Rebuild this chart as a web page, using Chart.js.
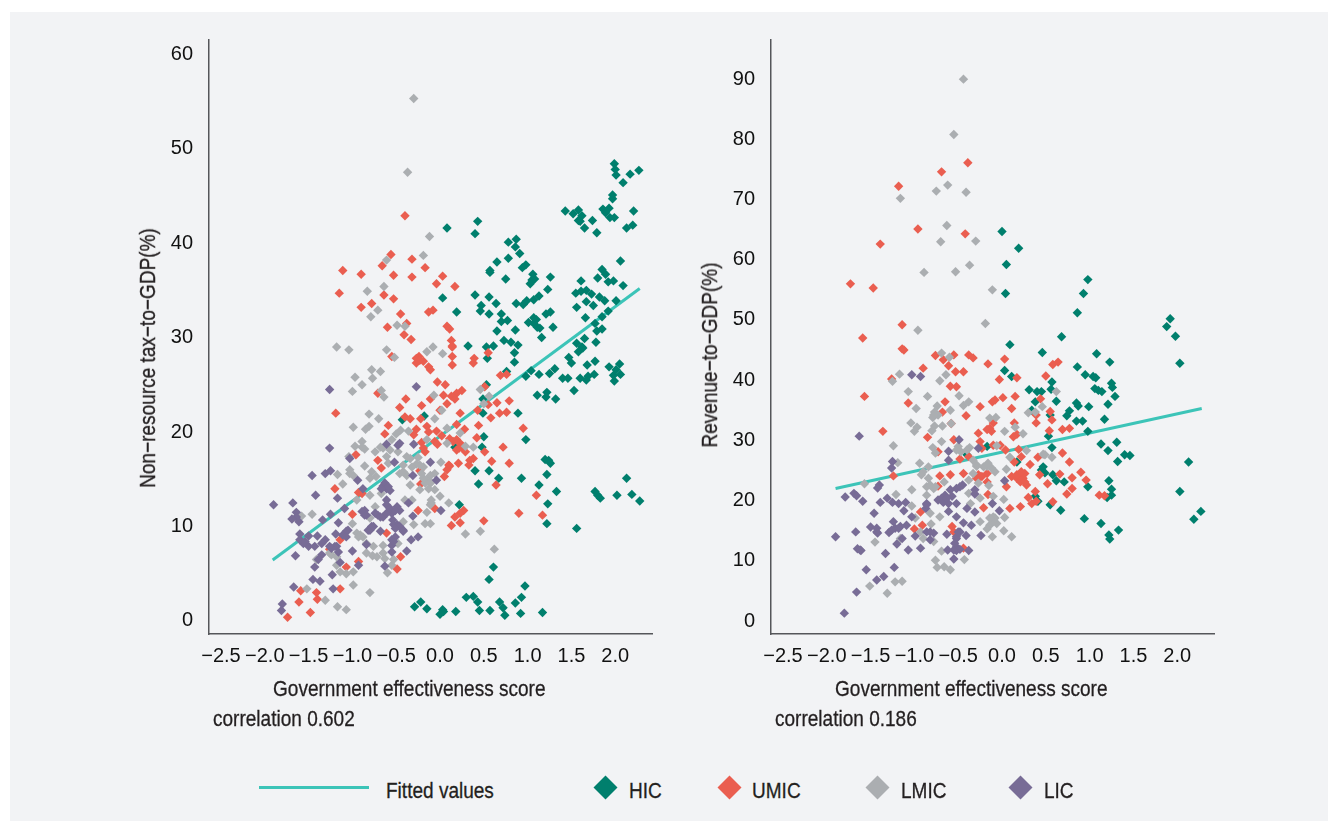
<!DOCTYPE html>
<html>
<head>
<meta charset="utf-8">
<script src="https://cdn.jsdelivr.net/npm/chart.js@4"></script>
<style>
html,body{margin:0;padding:0;background:#fff;width:1328px;height:821px;overflow:hidden}
#panel{position:absolute;left:10px;top:12px;width:1318px;height:809px;background:#f2f3f5}
canvas{position:absolute}
.t{position:absolute;font-family:"Liberation Sans",sans-serif;font-size:22px;color:#231f20;white-space:nowrap;line-height:22px;transform-origin:0 50%;transform:scaleX(0.865);-webkit-text-stroke:0.3px #231f20}
.t.rot{transform-origin:50% 50%;transform:translate(-50%,-50%) rotate(-90deg) scaleX(0.865)}
.d{position:absolute;width:17px;height:17px;transform:rotate(45deg)}
#ln{position:absolute;left:259px;top:786px;width:110px;height:3px;background:#3cc4b8}
</style>
</head>
<body>
<div id="panel"></div>
<canvas id="c1" width="530" height="680" style="left:130px;top:30px;width:530px;height:680px"></canvas>
<canvas id="c2" width="530" height="680" style="left:692px;top:30px;width:530px;height:680px"></canvas>
<div class="t rot" style="left:148px;top:358px">Non−resource tax−to−GDP(%)</div>
<div class="t rot" style="left:710px;top:355px">Revenue−to−GDP(%)</div>
<div class="t" style="left:273px;top:678px">Government effectiveness score</div>
<div class="t" style="left:835px;top:678px">Government effectiveness score</div>
<div class="t" style="left:213px;top:708px">correlation 0.602</div>
<div class="t" style="left:775px;top:708px">correlation 0.186</div>
<div id="ln"></div>
<div class="t" style="left:386px;top:780px">Fitted values</div>
<div class="d" style="left:597px;top:779px;background:#007f6d"></div>
<div class="t" style="left:629px;top:780px">HIC</div>
<div class="d" style="left:721px;top:779px;background:#ea5e50"></div>
<div class="t" style="left:752px;top:780px">UMIC</div>
<div class="d" style="left:869px;top:779px;background:#abaeb1"></div>
<div class="t" style="left:901px;top:780px">LMIC</div>
<div class="d" style="left:1012px;top:779px;background:#786c96"></div>
<div class="t" style="left:1044px;top:780px">LIC</div>
<script>
const seriesNames = ["HIC","UMIC","LMIC","LIC"];
const seriesColors = ["#007f6d","#ea5e50","#abaeb1","#786c96"];
const fittedColor = "#3cc4b8";
const xTicks = [-2.5,-2,-1.5,-1,-0.5,0,0.5,1,1.5,2];
const taxTicks = [0,10,20,30,40,50,60];
const revTicks = [0,10,20,30,40,50,60,70,80,90];
const taxFit = [[-1.91,6.46],[2.28,35.2]];
const revFit = [[-1.90,22.0],[2.28,35.3]];

const taxHIC = [[1.99,48.4],[2.0,47.8],[2.01,47.2],[2.27,47.7],[2.17,47.3],[2.09,46.4],[1.97,45.1],[1.97,44.7],[1.43,43.4],[1.52,43.1],[1.58,43.5],[1.62,42.9],[1.58,42.4],[1.6,42.3],[1.74,42.4],[1.65,41.6],[1.79,41.1],[1.86,43.6],[1.93,43.7],[1.89,43.2],[1.94,42.7],[1.99,42.7],[2.21,43.4],[2.2,41.9],[2.13,41.6],[0.08,41.6],[0.43,42.3],[0.4,41.0],[0.78,40.1],[0.87,40.4],[0.86,39.6],[0.91,38.9],[0.65,38.0],[0.78,38.4],[0.98,37.7],[0.94,37.4],[0.57,37.1],[0.57,36.9],[0.75,36.2],[1.06,36.7],[1.08,36.2],[1.05,36.1],[1.03,35.7],[1.26,36.4],[1.23,35.1],[1.13,34.4],[0.03,34.2],[0.4,34.5],[0.56,34.3],[0.19,32.7],[0.64,33.6],[0.47,33.4],[0.46,32.8],[0.56,32.5],[0.7,32.5],[0.77,31.8],[0.7,31.7],[0.65,30.7],[0.86,30.8],[0.87,33.6],[0.95,33.5],[0.99,33.9],[1.07,34.0],[1.07,32.1],[1.1,31.9],[1.01,31.6],[1.07,31.5],[1.11,31.1],[1.14,31.0],[1.21,32.5],[1.26,32.7],[1.29,31.1],[1.16,30.0],[2.06,38.1],[1.85,37.2],[1.8,36.3],[1.89,36.7],[1.92,35.9],[1.98,36.0],[1.61,36.0],[1.55,34.7],[1.61,34.9],[1.67,35.0],[1.73,34.6],[2.09,35.5],[1.82,34.3],[1.88,33.9],[1.67,33.8],[1.75,33.4],[2.01,33.9],[1.56,33.2],[1.66,32.1],[1.92,32.8],[1.85,32.2],[1.77,31.5],[1.85,30.9],[1.79,30.7],[1.65,29.9],[1.78,29.5],[1.56,29.4],[1.62,29.0],[0.32,29.1],[0.53,29.0],[0.61,29.1],[0.73,29.7],[0.81,29.5],[0.89,29.2],[0.85,28.4],[0.54,27.8],[0.85,27.4],[0.76,26.4],[0.98,25.9],[1.04,26.5],[1.13,26.1],[1.25,26.2],[1.31,26.7],[1.4,25.7],[1.46,25.7],[1.47,27.9],[1.5,27.3],[1.58,28.5],[1.63,28.9],[1.68,27.1],[1.77,27.5],[1.6,25.7],[1.67,25.5],[1.69,25.9],[1.76,26.1],[1.93,26.9],[2.05,27.2],[2.01,26.6],[1.98,26.0],[2.06,26.1],[1.99,25.4],[1.53,24.4],[1.11,23.9],[1.22,24.2],[1.21,23.7],[1.32,23.5],[0.53,25.0],[0.49,23.5],[0.49,22.0],[-0.18,21.7],[-0.43,21.3],[0.89,22.0],[0.5,19.5],[0.48,18.4],[0.17,18.4],[0.98,19.2],[1.2,17.1],[1.24,17.0],[1.26,16.7],[1.22,15.5],[0.4,15.9],[0.56,15.9],[0.67,15.1],[0.44,14.5],[0.93,15.1],[1.13,14.4],[1.33,13.7],[1.23,12.4],[1.77,13.7],[1.8,13.3],[1.83,13.0],[2.02,13.3],[2.19,13.4],[2.13,15.1],[2.28,12.7],[1.56,9.8],[1.22,10.3],[0.22,12.3],[0.61,5.7],[0.56,4.4],[0.97,3.7],[0.3,2.5],[0.38,2.6],[0.43,2.0],[-0.22,2.0],[-0.29,1.5],[-0.15,1.3],[0.03,1.2],[0.04,1.0],[0.0,0.7],[0.18,1.0],[0.45,1.1],[0.57,1.1],[0.68,2.0],[0.72,1.4],[0.74,0.6],[0.86,1.9],[0.93,2.5],[0.92,0.8],[1.17,0.9]];

const taxUMIC = [[-0.4,42.9],[-0.56,38.8],[-0.32,38.3],[-0.66,37.6],[-1.11,37.1],[-0.9,36.7],[-0.53,36.6],[-0.17,37.4],[-0.32,36.4],[0.03,36.5],[-0.04,35.7],[0.17,35.4],[-1.15,34.7],[-0.64,34.5],[-0.53,34.1],[-0.78,33.6],[-0.9,33.2],[-0.45,32.5],[-0.13,32.7],[-0.08,32.9],[-0.38,31.5],[-0.6,31.1],[0.08,31.2],[0.11,30.9],[-0.41,30.3],[-0.33,29.8],[0.13,29.7],[0.14,29.1],[0.14,29.0],[-0.55,28.0],[0.14,28.0],[0.39,27.8],[0.38,27.3],[0.14,27.1],[-0.24,28.0],[-0.27,27.3],[-0.19,27.5],[-0.13,26.9],[-0.11,26.6],[0.55,28.4],[0.69,26.0],[0.76,26.1],[-0.03,25.3],[0.06,25.0],[0.51,24.8],[-0.71,24.1],[0.25,24.4],[0.19,24.1],[0.04,23.9],[0.13,23.8],[0.17,23.5],[-0.11,23.5],[-0.39,23.5],[0.08,23.0],[-0.21,22.8],[-0.46,22.6],[0.79,23.3],[0.65,23.1],[0.55,22.9],[0.43,22.3],[-1.19,22.0],[0.0,22.3],[0.23,22.0],[0.68,22.0],[0.76,22.1],[0.58,21.5],[-0.4,21.6],[-0.34,21.4],[-0.22,21.4],[0.19,20.8],[-0.59,20.7],[-0.15,20.6],[0.44,20.7],[0.95,20.4],[-0.27,20.3],[0.28,20.3],[-0.04,20.1],[-0.13,20.0],[-0.3,19.7],[0.02,19.6],[0.42,19.4],[-0.63,19.8],[0.11,19.3],[-0.06,19.0],[-0.03,18.7],[0.15,19.0],[-0.21,18.9],[0.23,18.8],[-0.19,18.3],[0.22,18.3],[-0.17,17.9],[0.29,17.9],[0.72,18.4],[0.51,17.9],[-0.96,17.6],[-0.71,17.0],[0.38,17.2],[0.34,17.0],[0.59,16.9],[0.79,16.7],[0.21,16.7],[0.33,16.5],[0.11,16.4],[0.08,16.0],[-0.23,15.9],[-0.67,16.2],[0.05,15.3],[-0.22,14.5],[0.64,14.4],[-1.2,14.0],[-0.93,13.6],[-0.89,13.5],[1.1,13.3],[-1.0,11.3],[0.27,11.7],[0.23,11.4],[0.17,11.0],[0.23,10.4],[0.13,10.1],[0.9,11.4],[1.17,11.2],[0.5,10.6],[-0.25,11.7],[-0.06,11.9],[-0.61,9.3],[-1.14,8.6],[-0.45,6.8],[-1.26,7.6],[-0.93,6.3],[-1.07,5.7],[-0.49,5.5],[-1.14,3.4],[-1.41,3.0],[-1.59,3.2],[-1.4,2.3],[-1.61,2.0],[-1.48,0.9],[-1.74,0.4],[0.19,19.2],[0.25,18.4],[0.19,18.1],[0.10,16.5],[-0.27,27.8],[-0.23,27.6]];

const taxLMIC = [[-0.3,55.3],[-0.37,47.5],[-0.12,40.7],[-0.19,38.7],[-0.61,38.2],[-0.83,34.9],[-0.64,35.4],[-0.71,32.9],[-0.79,32.2],[-0.49,31.3],[-0.4,31.2],[-0.08,29.0],[-1.18,29.0],[-1.04,28.7],[-0.61,28.7],[-0.15,28.5],[0.03,28.3],[-0.52,27.9],[-0.78,26.6],[-0.68,26.4],[-0.97,25.8],[-0.77,25.7],[-0.89,25.0],[-1.0,24.3],[-0.67,24.4],[-0.64,23.7],[-0.07,23.9],[0.46,24.5],[0.56,23.8],[0.5,23.0],[0.02,22.3],[-0.81,21.9],[-0.7,21.4],[-0.06,21.4],[-0.99,20.5],[-0.85,20.3],[-0.81,20.6],[-0.45,20.2],[-0.36,20.1],[-0.5,19.8],[-0.55,19.2],[0.08,20.4],[0.23,19.9],[-0.15,19.2],[-0.89,19.0],[-0.97,18.5],[-0.86,18.2],[0.08,18.8],[0.29,18.5],[0.38,18.4],[-0.65,18.3],[-0.74,17.9],[-0.61,17.4],[-0.48,17.9],[-0.38,17.4],[-0.25,17.3],[-1.04,17.4],[-0.86,16.4],[-0.59,16.7],[-0.42,16.5],[-0.27,16.6],[-0.32,16.3],[0.01,16.8],[-1.03,16.0],[-0.99,15.4],[-0.78,15.8],[-0.73,15.3],[-0.8,15.1],[-0.46,15.6],[-0.38,15.4],[-0.21,15.6],[-0.06,15.6],[-0.15,14.9],[-1.17,15.5],[-1.11,14.5],[-0.34,14.4],[-0.11,14.6],[-0.23,13.9],[-0.13,14.0],[-0.06,13.9],[-0.95,12.8],[-0.8,13.3],[-0.67,13.5],[0.0,13.2],[0.1,12.5],[-0.1,12.5],[-0.4,12.8],[-0.32,12.8],[-0.74,12.1],[-1.58,11.1],[-1.46,11.3],[-0.15,11.5],[-0.8,10.9],[-0.42,10.5],[-1.0,10.3],[-0.3,10.2],[-0.17,10.3],[-0.11,10.3],[0.29,9.2],[0.46,9.5],[-0.95,9.3],[-0.88,8.9],[-0.48,8.2],[-0.76,7.9],[-0.65,8.0],[0.62,7.6],[-1.24,7.0],[-0.84,7.2],[-0.77,6.9],[-0.72,6.8],[-0.63,6.6],[-0.55,5.9],[-1.18,5.9],[-1.14,5.2],[-1.07,5.0],[-0.99,5.2],[-0.6,5.1],[-1.41,6.5],[-1.52,3.4],[-0.99,3.8],[-0.8,3.0],[-1.31,2.2],[-1.17,1.5],[-1.07,1.2],[-0.19,16.3],[-0.23,16.5],[-0.11,15.4],[-0.17,14.6],[-0.10,14.7],[-0.19,15.1],[-0.42,15.8],[-0.34,17.2],[-0.57,18.1],[-0.68,18.4],[-0.91,9.1],[-0.84,8.2],[-1.26,7.2],[-1.18,6.8],[-0.65,7.2],[-0.53,6.5],[-0.89,18.4],[-1.03,15.6],[-0.93,8.9],[-0.10,12.8],[-0.11,12.3]];

const taxLIC = [[-0.27,24.8],[-1.26,24.5],[-1.26,18.3],[-1.03,17.2],[-0.3,18.7],[-0.61,18.7],[-0.48,18.6],[-0.46,18.8],[-0.52,16.8],[-0.11,16.8],[-0.31,15.4],[-1.46,15.4],[-1.31,15.6],[-1.25,15.9],[-0.94,14.9],[-0.04,14.9],[-0.65,14.3],[-0.88,14.0],[-0.61,14.0],[-0.57,13.8],[-1.42,13.3],[-1.17,13.0],[-0.61,12.8],[-0.61,12.3],[-1.68,12.5],[-1.9,12.3],[-0.36,12.5],[-0.49,12.1],[-1.09,11.9],[-0.86,11.7],[-0.86,11.2],[0.01,11.7],[-1.64,11.5],[-1.25,11.3],[-1.64,11.0],[-1.69,10.8],[-1.61,10.5],[-1.34,10.7],[-0.71,11.2],[-0.65,11.0],[-0.55,11.4],[-0.46,11.7],[-0.54,10.7],[-0.31,11.1],[-1.16,10.4],[-0.78,10.0],[-0.82,9.6],[-0.49,10.2],[-0.42,9.6],[-0.68,9.5],[-1.07,9.5],[-1.11,9.1],[-1.19,9.2],[-1.6,9.2],[-1.5,9.0],[-1.4,9.0],[-0.25,8.9],[-0.33,8.6],[-1.31,8.6],[-1.56,8.2],[-1.5,7.9],[-1.43,7.9],[-1.35,8.2],[-0.55,8.6],[-0.55,8.0],[-1.24,7.7],[-1.18,7.9],[-1.16,7.3],[-1.0,7.4],[-0.84,8.1],[-0.38,7.4],[-0.55,7.3],[-1.65,6.9],[-1.35,7.0],[-1.39,6.5],[-1.14,6.2],[-1.43,5.7],[-0.93,5.9],[-0.63,5.8],[-1.23,4.9],[-1.45,4.4],[-1.37,4.2],[-1.67,3.6],[-1.22,3.4],[-1.8,1.8],[-1.81,1.1],[-0.89,11.6],[-0.84,11.2],[-0.74,11.4],[-0.68,11.0],[-0.61,11.4],[-0.57,11.9],[-0.51,11.7],[-0.53,10.2],[-0.46,10.0],[-0.42,9.5],[-0.51,9.8],[-0.80,9.6],[-0.76,10.0],[-1.07,8.9],[-1.05,9.6],[-1.20,7.9],[-1.26,7.9],[-1.60,8.6],[-1.54,8.4],[-0.63,14.6],[-0.59,14.2],[-0.67,14.0],[-0.51,8.9],[-0.53,8.4]];

const revHIC = [[0.0,64.7],[0.19,61.9],[0.05,59.2],[0.04,54.4],[0.98,56.7],[0.93,54.4],[0.86,51.2],[0.68,47.2],[0.09,45.9],[1.92,50.2],[1.88,48.9],[1.98,47.3],[0.46,44.6],[1.08,44.4],[1.23,43.0],[2.03,42.8],[0.86,42.2],[0.03,41.6],[0.11,40.6],[0.95,40.9],[1.04,40.6],[1.07,40.4],[1.25,39.5],[1.26,38.8],[0.57,39.7],[0.56,38.5],[0.31,38.4],[0.4,38.1],[0.45,38.1],[1.06,38.6],[1.1,38.3],[1.14,38.1],[1.29,37.3],[0.62,36.5],[0.38,36.4],[1.21,36.0],[0.85,36.2],[0.87,35.7],[0.99,35.6],[0.34,35.0],[0.77,34.9],[0.74,34.1],[0.55,34.2],[0.85,33.2],[0.92,33.2],[1.17,33.5],[0.98,31.5],[0.53,30.7],[0.57,28.8],[-0.17,29.0],[-0.4,27.6],[1.13,29.4],[1.31,29.7],[1.21,28.3],[1.4,27.6],[1.46,27.5],[1.32,26.5],[2.13,26.4],[0.17,26.4],[0.47,25.6],[0.45,25.1],[0.49,24.6],[0.58,24.3],[0.62,23.3],[0.71,23.1],[1.22,23.3],[0.98,22.3],[1.25,21.9],[1.25,20.9],[1.2,20.5],[2.03,21.5],[0.41,19.9],[0.38,20.7],[0.55,19.3],[0.67,18.4],[2.27,18.2],[2.19,16.9],[0.94,17.0],[1.13,16.2],[1.33,15.1],[1.22,14.3],[1.23,13.6]];

const revUMIC = [[-0.39,76.1],[-0.69,74.6],[-1.18,72.2],[-0.96,65.1],[-0.42,64.3],[-1.39,62.6],[-1.73,56.0],[-1.47,55.3],[-1.14,49.2],[-1.59,47.0],[-1.14,45.2],[-1.12,45.0],[-0.76,44.1],[-0.55,44.2],[-0.38,44.2],[-0.33,43.7],[-0.67,43.4],[-0.61,42.4],[-0.16,42.7],[0.03,43.5],[-0.9,42.0],[0.64,43.0],[0.58,42.6],[-0.53,41.4],[-0.44,41.4],[0.5,40.7],[0.17,40.4],[-0.03,40.1],[-1.26,40.2],[-0.59,39.0],[-0.52,38.9],[-1.57,37.3],[-0.65,36.4],[-1.07,36.2],[-0.11,36.4],[-0.08,36.7],[0.01,37.1],[0.15,37.3],[0.44,36.9],[0.11,35.3],[-0.25,35.6],[-0.68,34.7],[-0.41,34.1],[0.55,34.8],[0.57,33.4],[0.39,34.2],[0.39,32.9],[0.14,32.9],[-0.1,32.9],[-0.58,32.8],[-0.14,32.0],[0.54,31.6],[0.69,31.8],[0.77,32.0],[-0.17,31.8],[-0.12,31.5],[-0.27,31.2],[-1.36,31.5],[0.13,30.6],[0.17,31.0],[-0.85,30.5],[-0.55,30.1],[-0.25,29.8],[-0.23,28.7],[-0.1,29.2],[-0.02,29.2],[0.04,28.4],[0.19,28.5],[-0.73,28.1],[0.69,27.9],[0.22,27.3],[-0.38,27.3],[-0.48,26.9],[0.41,27.2],[0.14,26.4],[0.77,26.4],[0.32,26.0],[-0.44,24.5],[-1.24,24.1],[-0.71,24.1],[-0.59,24.3],[-0.27,24.3],[-0.23,24.0],[0.11,24.0],[0.17,23.7],[0.23,24.3],[0.26,24.5],[0.21,23.1],[0.28,22.6],[0.43,24.3],[0.66,24.4],[0.9,24.7],[0.8,23.8],[0.96,23.4],[-0.17,23.1],[0.52,22.8],[-0.73,22.4],[0.05,22.3],[0.38,21.5],[0.8,22.0],[0.74,21.1],[-0.16,21.0],[0.3,20.5],[1.11,20.9],[1.17,20.8],[0.58,19.8],[0.34,19.5],[0.39,19.9],[0.21,19.0],[0.09,18.7],[-0.21,18.8],[-0.93,18.1],[-0.91,15.9],[-1.0,15.3],[-0.57,15.7],[-0.55,14.8],[-0.44,12.1],[0.21,24.0],[0.24,23.7],[0.17,24.3],[0.26,23.1],[0.22,24.8],[-0.25,24.0],[-0.17,24.5],[-0.29,23.7]];

const revLMIC = [[-0.44,90.0],[-0.55,80.8],[-0.62,72.4],[-0.75,71.4],[-0.41,71.2],[-1.16,70.2],[-0.63,65.7],[-0.7,63.0],[-0.3,63.1],[-0.37,59.1],[-0.53,58.0],[-0.89,57.9],[-0.11,55.0],[-0.19,49.4],[-0.96,48.3],[-0.69,44.5],[-0.6,43.8],[-1.17,41.0],[-0.64,40.9],[-0.71,39.9],[-1.25,39.8],[-1.07,38.1],[-0.49,37.4],[-0.85,37.3],[0.62,38.1],[-0.74,35.7],[-0.98,35.3],[-0.38,36.4],[-0.44,35.8],[0.46,35.6],[-0.77,34.7],[-0.59,35.0],[-0.79,33.8],[-0.73,34.2],[-0.14,33.7],[-0.07,33.8],[0.3,34.6],[0.38,34.7],[-1.04,32.9],[-0.58,32.8],[-0.68,32.4],[-0.77,32.4],[-0.97,32.2],[-1.0,31.5],[-0.8,31.6],[0.03,31.5],[0.15,32.2],[0.24,31.1],[-0.69,29.8],[-1.24,29.1],[-0.5,29.0],[-0.06,29.1],[-0.79,28.8],[-0.37,28.8],[-0.76,27.9],[-0.47,28.1],[0.28,28.3],[0.47,27.7],[0.57,27.2],[0.09,27.2],[-1.19,26.3],[-0.94,26.2],[-0.84,25.6],[-0.29,25.7],[-0.17,25.7],[-0.12,25.4],[-0.9,24.8],[-0.92,24.3],[-0.33,24.5],[-0.08,24.8],[0.05,25.2],[-0.84,23.7],[-0.66,23.1],[-0.38,23.4],[-0.27,22.9],[-1.57,22.8],[-0.86,22.3],[-0.78,22.0],[-0.15,22.5],[-1.03,21.8],[-0.86,20.9],[-0.38,21.2],[-0.1,20.7],[-1.21,21.0],[0.02,20.2],[-1.03,19.1],[-0.36,19.5],[-0.25,20.4],[-0.82,17.9],[-0.71,17.3],[0.03,17.2],[-0.25,16.5],[-0.1,17.3],[-0.06,16.2],[-0.14,15.9],[-0.99,17.1],[-0.81,16.1],[-0.17,15.3],[0.02,15.0],[-0.11,14.0],[0.11,14.0],[-0.93,14.8],[-0.9,13.7],[-1.16,13.7],[-0.78,13.2],[-1.45,13.1],[-0.69,11.6],[-0.43,10.2],[-0.76,10.1],[-0.74,8.9],[-0.66,9.0],[-0.59,8.5],[-1.22,6.5],[-1.14,6.6],[-1.51,5.8],[-1.31,4.6],[-0.10,16.5],[-0.08,17.1],[-0.14,17.1],[-0.29,25.9],[-0.21,25.6],[-0.16,26.2],[-0.78,34.2],[-0.76,22.3],[-0.82,22.6],[-0.33,26.7],[-0.40,28.4],[-0.52,28.4],[0.49,27.6]];

const revLIC = [[-0.49,30.1],[-1.63,30.7],[-1.03,40.9],[-0.93,40.6],[-0.61,28.2],[-0.27,28.7],[-0.61,26.7],[-1.25,26.5],[-1.26,25.4],[-1.4,22.6],[-1.42,22.1],[-0.45,22.6],[-0.52,22.0],[0.03,23.3],[-0.31,21.8],[-0.31,21.1],[-0.59,21.8],[-0.65,20.9],[-0.57,20.7],[-0.73,20.1],[-0.67,19.7],[-0.52,19.5],[-1.79,20.6],[-1.69,21.2],[-1.66,20.8],[-1.59,19.9],[-1.39,19.7],[-1.31,20.4],[-1.25,19.7],[-1.18,19.5],[-1.1,19.7],[-1.12,18.3],[-0.86,19.5],[-0.87,18.7],[-0.11,19.5],[-1.46,17.9],[-0.61,18.2],[-0.4,18.7],[-0.31,18.1],[-0.03,18.3],[-1.03,17.3],[-0.52,17.3],[-1.24,16.5],[-0.44,16.3],[-0.35,15.9],[-1.5,15.6],[-1.43,15.4],[-1.09,15.9],[-1.16,15.7],[-1.22,15.4],[-1.67,14.8],[-1.29,14.7],[-1.42,14.6],[-1.9,14.0],[-0.86,14.8],[-0.78,14.6],[-0.99,14.1],[-0.82,13.5],[-0.63,14.4],[-0.48,14.8],[-0.52,13.7],[-0.41,14.2],[-0.24,14.2],[-1.14,13.7],[-1.2,12.8],[-1.07,11.8],[-0.93,12.1],[-1.65,12.0],[-1.61,11.7],[-0.62,11.8],[-0.52,12.3],[-0.52,11.7],[-0.38,11.7],[-1.33,11.2],[-0.55,10.3],[-1.55,8.5],[-1.23,8.9],[-1.35,7.4],[-1.43,6.8],[-1.66,4.8],[-1.8,1.3],[-0.52,14.0],[-0.54,12.9],[-0.48,11.9],[-0.55,11.8],[-0.50,14.8],[-0.61,19.5],[-0.69,20.4],[-0.63,20.4],[-0.48,22.3],[-0.86,19.3],[-1.43,14.8],[-1.26,15.1],[-1.18,15.4],[-0.82,14.8],[-1.62,11.8]];

const FONT = {family:'"Liberation Sans",sans-serif',size:20};
function toPts(a){return a.map(p=>({x:p[0],y:p[1]}));}
function makeChart(id,groups,fit,yTicks,yMin,yMax){
  const datasets = groups.map((g,i)=>({
    type:'scatter',label:seriesNames[i],data:toPts(g),pointStyle:'rectRot',pointRadius:4.7,pointBorderWidth:0,
    backgroundColor:seriesColors[i],order:4-i
  }));
  datasets.push({type:'line',label:'Fitted values',data:toPts(fit),borderColor:fittedColor,borderWidth:3,pointRadius:0,fill:false,order:5});
  new Chart(document.getElementById(id),{
    type:'scatter',
    data:{datasets},
    options:{
      responsive:false,animation:false,
      layout:{padding:{top:10,right:8,bottom:0,left:0}},
      plugins:{legend:{display:false},tooltip:{enabled:false}},
      scales:{
        x:{type:'linear',min:-2.637,max:2.42,
          afterBuildTicks(ax){ax.ticks=xTicks.map(v=>({value:v}));},
          afterFit(ax){ax.height=76;ax.paddingLeft=0;ax.paddingRight=0;},
          grid:{display:false,drawTicks:false},
          border:{color:'#55565a',width:1.5},
          ticks:{color:'#111',font:FONT,padding:10,maxRotation:0,autoSkip:false,
            callback:v=>(v<0?'−':'')+Math.abs(v).toFixed(1)}},
        y:{type:'linear',min:yMin,max:yMax,
          afterBuildTicks(ax){ax.ticks=yTicks.map(v=>({value:v}));},
          afterFit(ax){ax.width=79;ax.paddingTop=0;ax.paddingBottom=0;},
          grid:{display:false,drawTicks:false},
          border:{color:'#55565a',width:1.5},
          ticks:{color:'#111',font:FONT,padding:16,autoSkip:false,callback:v=>String(v)}}
      }
    }
  });
}
makeChart('c1',[taxHIC,taxUMIC,taxLMIC,taxLIC],taxFit,taxTicks,-1.38,61.5);
makeChart('c2',[revHIC,revUMIC,revLMIC,revLIC],revFit,revTicks,-2.16,96.5);
</script>
</body>
</html>
